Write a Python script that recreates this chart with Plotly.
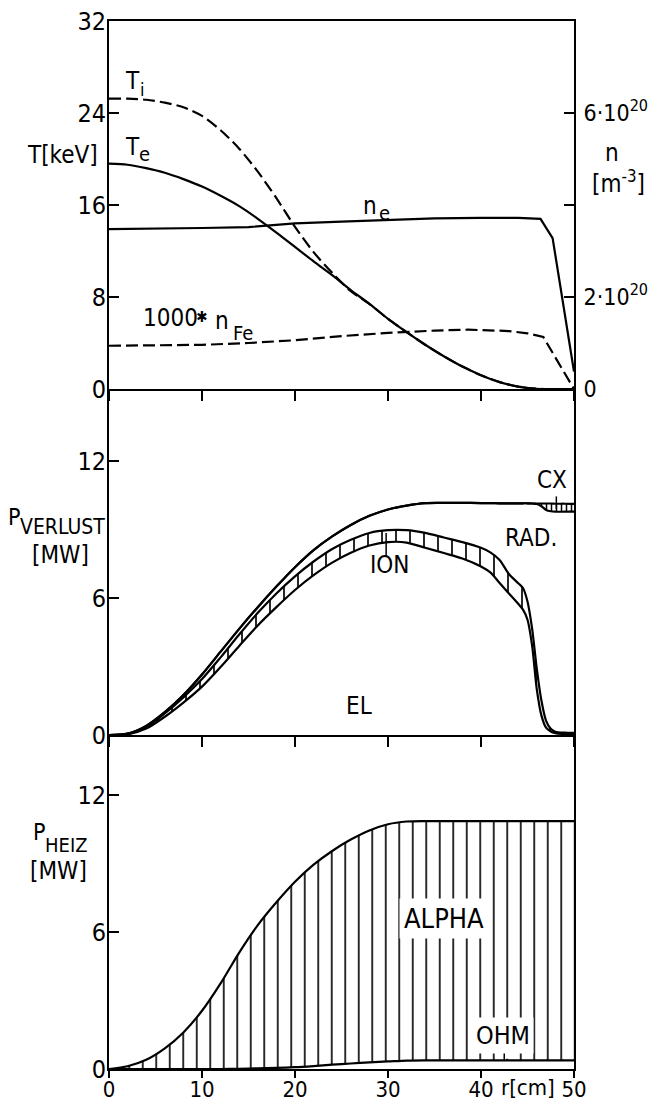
import plotly.graph_objects as go

# ---------------- data ----------------
# top panel: temperatures [keV] and densities [1e20 m^-3]
r_T = [0, 2, 4, 6, 8, 10, 12, 14, 16, 18, 20, 22, 24, 26, 28, 30, 32, 34, 36, 38, 40, 42, 44, 46, 47, 48, 49, 50]
T_e = [19.6, 19.5, 19.2, 18.8, 18.25, 17.6, 16.8, 15.9, 14.8, 13.6, 12.35, 11.1, 9.9, 8.6, 7.4, 6.1, 4.95,
       3.85, 2.85, 1.95, 1.2, 0.6, 0.2, 0.02, 0, 0, 0, 0]
T_i = [25.25, 25.25, 25.15, 24.9, 24.5, 23.75, 22.5, 20.9, 18.9, 16.6, 14.1, 11.9, 10.1, 8.5, 7.4, 6.1, 4.95,
       3.85, 2.85, 1.95, 1.2, 0.6, 0.2, 0.02, 0, 0, 0, 0]
r_ne = [0, 5, 10, 15, 20, 25, 30, 35, 40, 44, 46.4, 47.7, 50]
n_e = [3.475, 3.48, 3.5, 3.52, 3.6, 3.64, 3.68, 3.71, 3.72, 3.72, 3.70, 3.28, 0.38]
r_fe = [0, 5, 10, 15, 20, 25, 30, 35, 38.6, 43, 45, 46.7, 50]
n_fe_x1000 = [0.94, 0.945, 0.96, 1.0, 1.06, 1.15, 1.22, 1.27, 1.29, 1.26, 1.21, 1.13, 0.0]

# middle panel: loss power [MW], cumulative boundaries EL | +ION | +RAD | +CX
r_loss = [0, 2, 4, 6, 8, 10, 12, 14, 16, 18, 20, 22, 24, 26, 28, 30, 32, 34, 36, 38, 40,
          41, 42, 43, 44, 44.5, 45, 45.5, 46, 46.5, 47, 47.5, 48, 49, 50]
P_el = [0, 0.03, 0.28, 0.8, 1.42, 2.12, 2.98, 3.9, 4.8, 5.6, 6.35, 7.0, 7.55, 7.98, 8.3, 8.45, 8.43, 8.2,
        7.97, 7.73, 7.38, 7.12, 6.66, 6.2, 5.75, 5.5, 5.05, 3.9, 2.0, 0.85, 0.32, 0.15, 0.08, 0.04, 0.03]
P_el_ion = [0, 0.05, 0.35, 0.95, 1.65, 2.45, 3.4, 4.4, 5.35, 6.2, 6.95, 7.6, 8.15, 8.55, 8.85, 8.97, 8.97,
            8.85, 8.65, 8.45, 8.2, 8.0, 7.67, 7.05, 6.65, 6.45, 5.85, 4.65, 2.9, 1.5, 0.62, 0.27, 0.14, 0.1, 0.09]
P_el_ion_rad = [0, 0.06, 0.4, 1.0, 1.75, 2.65, 3.65, 4.65, 5.6, 6.5, 7.35, 8.1, 8.7, 9.2, 9.6, 9.88, 10.05,
                10.16, 10.17, 10.17, 10.16, 10.16, 10.15, 10.15, 10.15, 10.15, 10.15, 10.14, 10.12, 10.02,
                9.86, 9.8, 9.78, 9.78, 9.78]
P_total = [0, 0.06, 0.4, 1.0, 1.75, 2.65, 3.65, 4.65, 5.6, 6.5, 7.35, 8.1, 8.7, 9.2, 9.6, 9.88, 10.05,
           10.16, 10.17, 10.17, 10.16, 10.16, 10.15, 10.15, 10.15, 10.15, 10.15, 10.14, 10.14, 10.14,
           10.14, 10.14, 10.13, 10.13, 10.12]

# bottom panel: heating power [MW], OHM and OHM+ALPHA
r_heat = [0, 2, 4, 6, 8, 10, 12, 14, 16, 18, 20, 22, 24, 26, 28, 30, 32, 34, 36, 38, 40, 42, 44, 46, 48, 50]
P_ohm = [0, 0, 0, 0, 0, 0, 0, 0.01, 0.03, 0.05, 0.08, 0.13, 0.19, 0.24, 0.29, 0.33, 0.37, 0.38,
         0.38, 0.38, 0.38, 0.38, 0.38, 0.38, 0.38, 0.38]
P_heiz = [0, 0.12, 0.4, 0.9, 1.6, 2.55, 3.75, 5.1, 6.3, 7.3, 8.2, 8.95, 9.55, 10.05, 10.45, 10.72, 10.84,
          10.86, 10.86, 10.86, 10.86, 10.86, 10.86, 10.86, 10.86, 10.86]

x_ticks = [0, 10, 20, 30, 40, 50]
T_ticks = [0, 8, 16, 24, 32]
P_ticks = [0, 6, 12]
n_ticks = [0, 2, 4, 6]
n_ticktext = ["0", "2·10<sup>20</sup>", "", "6·10<sup>20</sup>"]

# ---------------- figure ----------------
FONT = "DejaVu Sans Condensed, DejaVu Sans, sans-serif"
OFF = 8                               # default page margin around the plot div
SW, SH = 665, 1102                    # screen size
W, H = SW - OFF, SH - OFF             # figure size
L, R, T, B = 109, 574, 21, 1069       # plot area in screen pixels
LW = 2.2

fig = go.Figure()


def line(x, y, xa, ya, dash="solid", shape="spline", **kw):
    fig.add_trace(go.Scatter(x=x, y=y, xaxis=xa, yaxis=ya, mode="lines",
                             line=dict(color="black", width=LW, dash=dash, shape=shape,
                                       smoothing=0.8 if shape == "spline" else None),
                             hoverinfo="skip", **kw))


hatch = lambda s, sol: dict(shape="|", fgcolor="black", bgcolor="white", size=s, solidity=sol)

# top panel
line(r_T, T_i, "x3", "y3", dash="12px,5px")
line(r_T, T_e, "x3", "y3")
line(r_ne, n_e, "x3", "y4", shape="linear")
line(r_fe, n_fe_x1000, "x3", "y4", dash="12px,5px", shape="linear")

# middle panel
line(r_loss, P_el, "x2", "y2")
line(r_loss, P_el_ion, "x2", "y2", fill="tonexty", fillpattern=hatch(14, 0.12))
line(r_loss, P_el_ion_rad, "x2", "y2")
line(r_loss, P_total, "x2", "y2", fill="tonexty", fillpattern=hatch(5, 0.3))

# bottom panel
line(r_heat, P_ohm, "x", "y")
line(r_heat, P_heiz, "x", "y", fill="tonexty", fillpattern=hatch(13.5, 0.12))

d_bot = [0, (B - 735) / (B - T)]
d_mid = [(B - 735) / (B - T), (B - 389) / (B - T)]
d_top = [(B - 389) / (B - T), 1]
px_per_MW = 22.83

TICKFONT = dict(family=FONT, size=25, color="black")
ax_common = dict(showline=True, linecolor="black", linewidth=2, showgrid=False, automargin=False,
                 zeroline=False, tickcolor="black", tickwidth=2, ticklabeloverflow="allow")

fig.update_layout(
    template="none",
    width=W, height=H,
    margin=dict(l=L - OFF, r=W - (R - OFF), t=T - OFF, b=H - (B - OFF), pad=0),
    paper_bgcolor="white", plot_bgcolor="white", showlegend=False,
    font=dict(family=FONT, color="black"),
    xaxis=dict(domain=[0, 1], anchor="y", range=[0, 50], tickvals=x_ticks, ticks="outside", ticklen=7,
               mirror=False, tickfont=dict(family=FONT, size=22, color="black"), ticklabelstandoff=-7,
               **ax_common),
    xaxis2=dict(domain=[0, 1], anchor="y2", range=[0, 50], tickvals=x_ticks, ticks="outside", ticklen=10,
                showticklabels=False, mirror=False, **ax_common),
    xaxis3=dict(domain=[0, 1], anchor="y3", range=[0, 50], tickvals=x_ticks, ticks="outside", ticklen=10,
                showticklabels=False, mirror=True, **ax_common),
    yaxis=dict(domain=d_bot, anchor="x", range=[0, (B - 735) / px_per_MW], tickvals=P_ticks,
               ticks="inside", ticklen=10, mirror=True, ticklabelstandoff=-4, tickfont=TICKFONT, **ax_common),
    yaxis2=dict(domain=d_mid, anchor="x2", range=[0, (735 - 389) / px_per_MW], tickvals=P_ticks,
                ticks="inside", ticklen=10, mirror=True, ticklabelstandoff=-4, tickfont=TICKFONT, **ax_common),
    yaxis3=dict(domain=d_top, anchor="x3", range=[0, 32], tickvals=T_ticks,
                ticks="inside", ticklen=10, mirror=True, ticklabelstandoff=-4, tickfont=TICKFONT, **ax_common),
    yaxis4=dict(overlaying="y3", anchor="x3", side="right", range=[0, 8], tickvals=n_ticks,
                ticktext=n_ticktext, ticks="inside", ticklen=10, ticklabelstandoff=3,
                tickfont=dict(family=FONT, size=23, color="black"), **ax_common),
)


def pp(px, py):
    return (px - L) / (R - L), (B - py) / (B - T)


def text(s, px, py, size=24, xanchor="center", bg=None, pad=1):
    x, y = pp(px, py)
    fig.add_annotation(x=x, y=y, xref="paper", yref="paper", text=s, showarrow=False,
                       xanchor=xanchor, yanchor="middle", font=dict(family=FONT, size=size, color="black"),
                       bgcolor=bg, borderpad=pad)


# top panel labels
text("T[keV]", 62, 155, 24)
text("T", 132, 81, 24)
text("i", 142, 90, 18)
text("T", 132, 147, 24)
text("e", 144, 154, 20)
text("n", 370, 206, 24)
text("e", 384, 213, 20)
text("1000", 170, 318, 24)
text("✱", 201, 317, 15)
text("n", 222, 321, 24)
text("Fe", 243, 333, 20)
text("n", 612, 153, 24)
text("[m<sup>-3</sup>]", 618, 182, 24)

# middle panel labels
text("P", 14, 517, 23)
text("VERLUST", 62, 527, 21)
text("[MW]", 60, 555, 24)
text("ION", 390, 565, 24)
text("RAD.", 531, 538, 24)
text("CX", 552, 480, 24)
text("EL", 359, 706, 24)

# bottom panel labels
text("P", 39, 832, 23)
text("HEIZ", 66, 845, 20)
text("[MW]", 58, 871, 24)
text("ALPHA", 444, 918, 27, bg="white", pad=4)
text("OHM", 503, 1035, 25, bg="white", pad=3)
text("r[cm]", 528, 1087, 22)

# pointer lines
fig.add_shape(type="line", xref="x2", yref="y2", x0=29.8, x1=29.8, y0=7.85, y1=8.85,
              line=dict(color="black", width=1.5), layer="above")
fig.add_shape(type="line", xref="x2", yref="y2", x0=48.1, x1=48.1, y0=9.9, y1=10.45,
              line=dict(color="black", width=1.5), layer="above")
fig.add_shape(type="rect", xref="x", yref="y", x0=41.7, x1=43.3, y0=0.45, y1=1.0,
              line=dict(width=0), fillcolor="white", layer="above")
fig.add_shape(type="line", xref="x", yref="y", x0=42.5, x1=42.5, y0=0.38, y1=1.0,
              line=dict(color="black", width=1.5), layer="above")

fig.write_html("out.html")
